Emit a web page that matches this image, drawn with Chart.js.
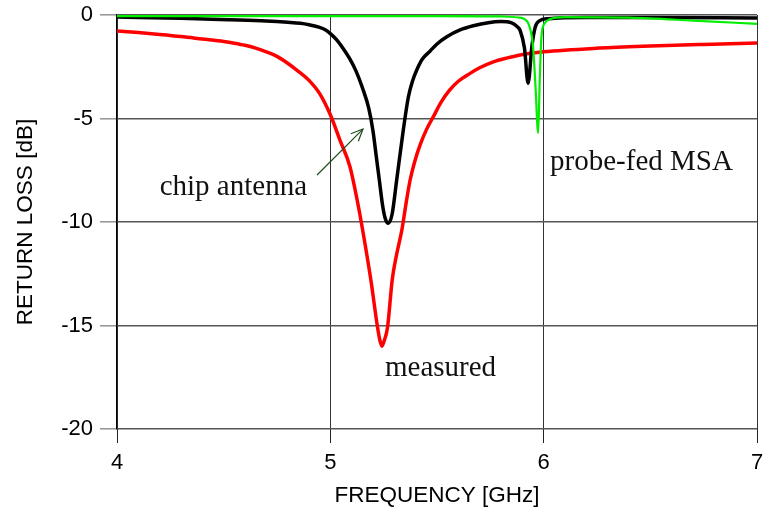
<!DOCTYPE html>
<html>
<head>
<meta charset="utf-8">
<script src="https://cdn.jsdelivr.net/npm/chart.js@4"></script>
<style>
html,body{margin:0;padding:0;background:#fff;}
#wrap{width:763px;height:513px;}
</style>
</head>
<body>
<div id="wrap"><canvas id="c" width="763" height="513"></canvas></div>
<script>
// ---- data (frequency in GHz, return loss in dB) ----
const measuredFreq = [4.0,4.1,4.2,4.3,4.4,4.5,4.55,4.6,4.65,4.7,4.75,4.8,4.85,4.9,4.95,5.0,5.045,5.092,5.125,5.15,5.19,5.22,5.232,5.242,5.252,5.268,5.29,5.31,5.335,5.355,5.374,5.395,5.42,5.45,5.483,5.52,5.56,5.6,5.655,5.7,5.764,5.83,5.89,6.0,6.26,6.5,6.75,7.0];
const measuredDb   = [-0.77,-0.85,-0.94,-1.04,-1.16,-1.28,-1.36,-1.46,-1.6,-1.78,-2.0,-2.33,-2.72,-3.16,-3.8,-4.82,-6.04,-7.33,-8.9,-10.3,-12.8,-15.0,-15.7,-16.0,-15.75,-15.1,-12.8,-11.6,-10.4,-9.1,-7.97,-7.1,-6.3,-5.55,-4.91,-4.2,-3.62,-3.2,-2.82,-2.55,-2.26,-2.07,-1.93,-1.78,-1.6,-1.5,-1.42,-1.35];

const chipFreq = [4.0,4.3,4.53,4.7,4.8,4.86,4.9,4.95,4.98,5.0,5.03,5.06,5.09,5.12,5.15,5.18,5.2,5.215,5.23,5.245,5.258,5.272,5.29,5.311,5.342,5.366,5.385,5.405,5.43,5.467,5.5,5.546,5.608,5.67,5.74,5.8,5.85,5.875,5.89,5.91,5.927,5.945,5.96,5.98,6.02,6.2,6.5,7.0];
const chipDb   = [-0.1,-0.16,-0.23,-0.29,-0.35,-0.4,-0.47,-0.6,-0.74,-0.9,-1.2,-1.62,-2.1,-2.7,-3.5,-4.5,-5.6,-6.8,-8.0,-9.2,-9.85,-10.06,-9.6,-7.97,-5.56,-3.95,-3.2,-2.66,-2.15,-1.75,-1.4,-1.05,-0.72,-0.52,-0.37,-0.32,-0.38,-0.55,-0.75,-1.6,-3.3,-1.5,-0.6,-0.28,-0.18,-0.12,-0.12,-0.15];

const msaFreq = [4.0,5.0,5.5,5.8,5.88,5.91,5.93,5.95,5.962,5.974,5.982,5.99,6.005,6.03,6.1,6.4,6.7,7.0];
const msaDb   = [-0.05,-0.05,-0.05,-0.07,-0.12,-0.2,-0.45,-1.5,-3.5,-5.7,-3.0,-1.0,-0.4,-0.2,-0.1,-0.13,-0.27,-0.43];

const xTicks = [4,5,6,7];
const yTicks = [0,-5,-10,-15,-20];

function pts(xs, ys){ return xs.map((x,i)=>({x:x, y:ys[i]})); }

// annotation texts (positions in data units)
const notes = [
  {text:'chip antenna',  x:4.2,   y:-8.7},
  {text:'probe-fed MSA', x:6.03,  y:-7.5},
  {text:'measured',      x:5.256, y:-17.45}
];
const arrow = {x0:4.9376, y0:-7.73, x1:5.153, y1:-5.51};

const annotPlugin = {
  id:'annot',
  afterDatasetsDraw(chart){
    const ctx = chart.ctx, xs = chart.scales.x, ys = chart.scales.y;
    ctx.save();
    ctx.fillStyle = '#111';
    ctx.font = '29px "Liberation Serif", "Times New Roman", serif';
    ctx.textAlign = 'left';
    ctx.textBaseline = 'alphabetic';
    notes.forEach(n=>ctx.fillText(n.text, xs.getPixelForValue(n.x), ys.getPixelForValue(n.y)));
    const ax0 = xs.getPixelForValue(arrow.x0), ay0 = ys.getPixelForValue(arrow.y0);
    const ax1 = xs.getPixelForValue(arrow.x1), ay1 = ys.getPixelForValue(arrow.y1);
    ctx.strokeStyle = '#1d4d1d';
    ctx.lineWidth = 1.2;
    ctx.beginPath(); ctx.moveTo(ax0,ay0); ctx.lineTo(ax1,ay1); ctx.stroke();
    const ang = Math.atan2(ay1-ay0, ax1-ax0), L = 13, a = 0.42;
    ctx.beginPath();
    ctx.moveTo(ax1 - L*Math.cos(ang-a), ay1 - L*Math.sin(ang-a));
    ctx.lineTo(ax1, ay1);
    ctx.lineTo(ax1 - L*Math.cos(ang+a), ay1 - L*Math.sin(ang+a));
    ctx.stroke();
    ctx.restore();
  }
};

const sans = '"Liberation Sans", Arial, sans-serif';
function zeroPad(s){ s.paddingLeft = 0; s.paddingRight = 0; s.paddingTop = 0; s.paddingBottom = 0; }

new Chart(document.getElementById('c'), {
  type:'scatter',
  data:{
    datasets:[
      {label:'probe-fed MSA', data:pts(msaFreq,msaDb), showLine:true, borderColor:'#00ee00', borderWidth:2.2, pointRadius:0, cubicInterpolationMode:'monotone'},
      {label:'chip antenna', data:pts(chipFreq,chipDb), showLine:true, borderColor:'#000000', borderWidth:3.5, pointRadius:0, cubicInterpolationMode:'monotone'},
      {label:'measured', data:pts(measuredFreq,measuredDb), showLine:true, borderColor:'#ff0000', borderWidth:3.5, pointRadius:0, cubicInterpolationMode:'monotone'}
    ]
  },
  options:{
    responsive:false,
    animation:false,
    events:[],
    layout:{padding:{left:0,right:6,top:15,bottom:0}},
    plugins:{legend:{display:false}, tooltip:{enabled:false}},
    scales:{
      x:{
        type:'linear', min:4, max:7,
        afterBuildTicks(s){ s.ticks = xTicks.map(v=>({value:v})); },
        afterFit(s){ s.height = 84; zeroPad(s); },
        ticks:{font:{family:sans,size:22}, color:'#000', padding:7, maxRotation:0},
        grid:{color:'#333', lineWidth:1, tickLength:14, tickColor:'#222'},
        border:{display:false},
        title:{display:true, text:'FREQUENCY [GHz]', color:'#000', font:{family:sans,size:22.5}, padding:{top:0,bottom:4}}
      },
      y:{
        type:'linear', min:-20, max:0,
        afterBuildTicks(s){ s.ticks = yTicks.map(v=>({value:v})); },
        afterFit(s){ s.width = 117; zeroPad(s); },
        ticks:{font:{family:sans,size:22}, color:'#000', padding:7},
        grid:{color:'#555', lineWidth:1.6, tickLength:17, tickColor:'#999'},
        border:{display:true, color:'#000', width:1.2},
        title:{display:true, text:'RETURN LOSS [dB]', color:'#000', font:{family:sans,size:22.5}, padding:{top:12,bottom:0}}
      }
    }
  },
  plugins:[annotPlugin]
});
</script>
</body>
</html>
